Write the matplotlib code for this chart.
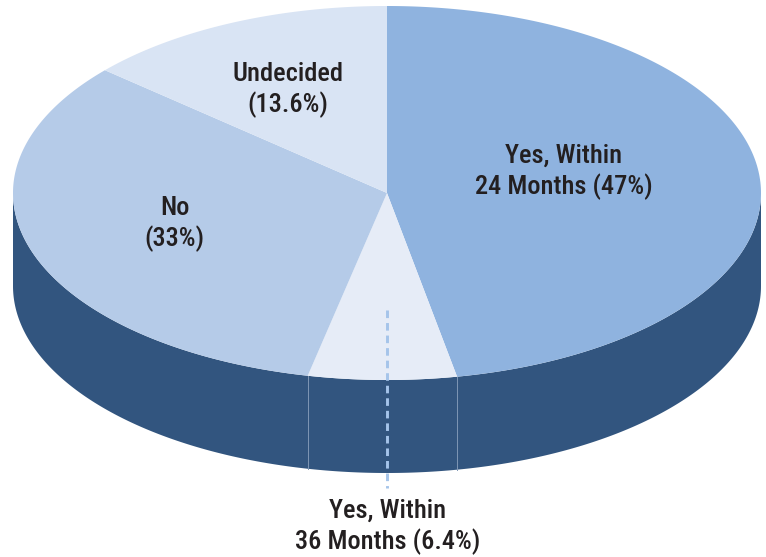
import numpy as np
import matplotlib
matplotlib.use('Agg')
import matplotlib.pyplot as plt

labels = ['Yes, Within\n24 Months (47%)', 'Yes, Within\n36 Months (6.4%)', 'No\n(33%)', 'Undecided\n(13.6%)']
shares = [47, 6.4, 33, 13.6]
colors = ['#8fb3df', '#e6ecf7', '#b5cbe8', '#d9e4f4']
wall_color = '#32557f'

W, H = 766, 557
cx, cy = 387, 193
rx, ry = 374, 187
depth = 93

plt.rcParams['font.family'] = ['Roboto Condensed', 'DejaVu Sans']

fig = plt.figure(figsize=(W / 100, H / 100), dpi=100)
ax = fig.add_axes([0, 0, 1, 1])
ax.set_xlim(0, W)
ax.set_ylim(H, 0)
ax.axis('off')

# side wall: lower half of the ellipse pushed down
t = np.linspace(np.pi / 2, 3 * np.pi / 2, 300)
xs = cx + rx * np.sin(t)
ys = cy - ry * np.cos(t)
ax.fill(np.r_[xs, xs[::-1]], np.r_[ys, ys[::-1] + depth], color=wall_color, lw=0, zorder=1)

# top of the pie, clockwise from 12 o'clock
edges = np.r_[0, np.cumsum(shares)] / sum(shares) * 2 * np.pi
for i in range(len(shares)):
    a = np.linspace(edges[i], edges[i + 1], 200)
    px = np.r_[cx, cx + rx * np.sin(a)]
    py = np.r_[cy, cy - ry * np.cos(a)]
    ax.fill(px, py, color=colors[i], lw=0, zorder=2)

# thin lines on the wall where the front slice starts and ends
for e in edges[1:3]:
    x0 = cx + rx * np.sin(e)
    y0 = cy - ry * np.cos(e)
    ax.plot([x0, x0], [y0, y0 + depth], color='#7f97b5', lw=0.7, zorder=3)

# dashed leader from the small slice
ax.plot([387, 387], [310, 488], color='#a5c4ea', lw=2.1, ls=(0, (2.6, 1.7)),
        dash_capstyle='butt', zorder=4)

txt = dict(ha='center', va='center', fontsize=19, color='#231f20', fontweight=500,
           linespacing=1.28, zorder=5)
ax.text(564, 172, labels[0], **txt)
ax.text(388, 526.5, labels[1], **txt)
ax.text(174.5, 224, labels[2], **txt)
ax.text(288, 90, labels[3], **txt)

fig.savefig('out.png', dpi=100)
